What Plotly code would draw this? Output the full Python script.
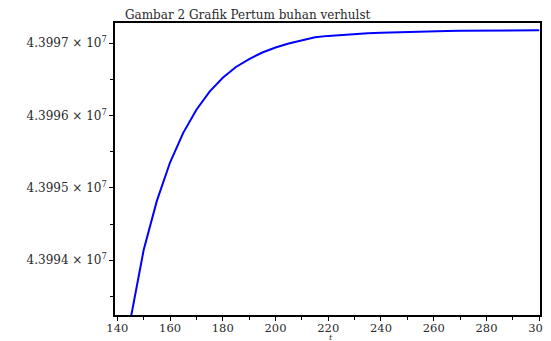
import plotly.graph_objects as go

t_vals = [145, 150, 155, 160, 165, 170, 175, 180, 185, 190, 195, 200, 205, 210,
          215, 220, 225, 230, 235, 240, 245, 250, 255, 260, 265, 270, 275, 280,
          285, 290, 295, 300]
population = [43993180, 43994140, 43994820, 43995350, 43995760, 43996080, 43996330,
              43996520, 43996670, 43996780, 43996870, 43996940, 43996995, 43997040,
              43997080, 43997100, 43997115, 43997128, 43997137, 43997144, 43997150,
              43997155, 43997160, 43997164, 43997167, 43997170, 43997172, 43997174,
              43997175, 43997176, 43997177, 43997177]

y_tickvals = [43994000, 43995000, 43996000, 43997000]
y_ticktext = ["4.3994 \u00d7 10<sup>7</sup>", "4.3995 \u00d7 10<sup>7</sup>",
              "4.3996 \u00d7 10<sup>7</sup>", "4.3997 \u00d7 10<sup>7</sup>"]
x_tickvals = [140, 160, 180, 200, 220, 240, 260, 280, 300]
x_ticktext = [str(v) for v in x_tickvals]
title_text = "Gambar 2 Grafik Pertum buhan verhulst"
x_title = "t"

# the page body adds an 8px offset, so the figure is sized/margined to compensate
W, H = 543, 333

fig = go.Figure()
fig.add_trace(go.Scatter(x=t_vals, y=population, mode="lines",
                         line=dict(color="#0000FF", width=2)))

font = dict(family="DejaVu Serif", size=12, color="#2a2a2a")
fig.update_layout(
    width=W, height=H,
    margin=dict(l=107, r=10.5, t=15.3, b=26, autoexpand=False),
    paper_bgcolor="white", plot_bgcolor="white",
    showlegend=False,
    font=font,
    title=dict(text=title_text, x=117/W, xanchor="left", y=1 - 6.5/H, yanchor="middle",
               font=dict(family="DejaVu Serif", size=12, color="#2a2a2a")),
    xaxis=dict(range=[139.13, 300.3], tickvals=x_tickvals, ticktext=x_ticktext,
               automargin=False, tickfont=dict(size=11.5), ticklabelstandoff=-3,
               ticks="outside", ticklen=4, tickwidth=1, tickcolor="black",
               showline=True, linecolor="black", linewidth=1.5, mirror=True,
               showgrid=False, zeroline=False,
               minor=dict(tickvals=[150, 170, 190, 210, 230, 250, 270, 290],
                          ticks="outside", ticklen=3, tickcolor="black")),
    yaxis=dict(range=[43993243, 43997278], tickvals=y_tickvals, ticktext=y_ticktext,
               automargin=False,
               ticks="outside", ticklen=4, tickwidth=1, tickcolor="black",
               showline=True, linecolor="black", linewidth=1.5, mirror=True,
               showgrid=False, zeroline=False,
               minor=dict(tickvals=[43993500, 43994500, 43995500, 43996500],
                          ticks="outside", ticklen=3, tickcolor="black")),
    annotations=[dict(text="<i>" + x_title + "</i>", xref="paper", yref="paper",
                      x=0.5076, y=-0.078, xanchor="center", yanchor="middle",
                      showarrow=False, font=dict(size=8, color="#2a2a2a"))],
)

fig.write_html("out.html")
